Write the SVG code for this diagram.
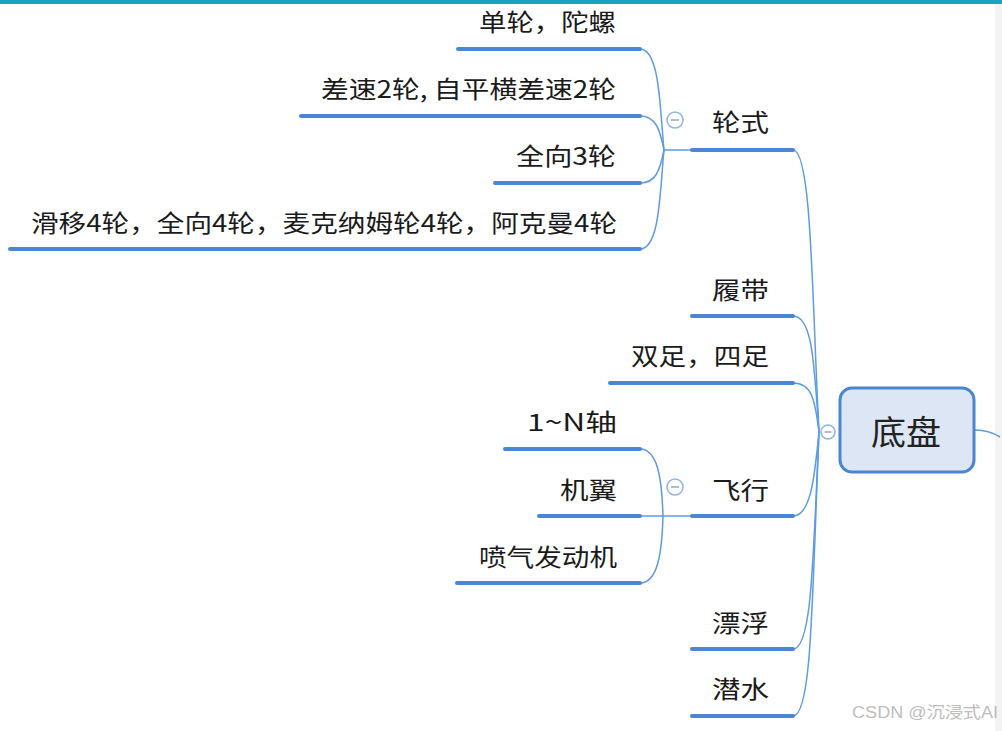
<svg xmlns="http://www.w3.org/2000/svg" width="1002" height="731" viewBox="0 0 1002 731">
<style>
.t{font-family:"Noto Sans CJK SC","Noto Sans",sans-serif;font-size:24px;fill:#1a1a1a}
.bar{stroke:#4A86D6;stroke-width:4;stroke-linecap:round;fill:none}
.ln{stroke:#5E9BE2;stroke-width:1.5;fill:none}
.col{fill:#fff;stroke:#8FB4E6;stroke-width:1.5}
.minus{stroke:#8FA6C8;stroke-width:1.5}
</style>
<rect x="0" y="0" width="1002" height="731" fill="#fff"/>
<rect x="0" y="0" width="1002" height="4" fill="#1CA3BF"/>
<rect x="995" y="4" width="7" height="727" fill="#F3F3F3"/>

<g id="connectors">
  <!-- root trunk -->
  <path class="ln" d="M975 430 C985 430 992 432 1000 437"/>
  <path class="ln" d="M819 432 C812 300 812 150 793 150"/>
  <path class="ln" d="M819 432 C814 360 812 316 793 316"/>
  <path class="ln" d="M819 432 C815 400 812 383 793 383"/>
  <path class="ln" d="M819 432 C815 470 812 516 793 516"/>
  <path class="ln" d="M819 432 C813 560 812 649 793 649"/>
  <path class="ln" d="M819 432 C812 600 812 716 793 716"/>
  <!-- 轮式 children -->
  <path class="ln" d="M692 150 L664 150"/>
  <path class="ln" d="M664 150 C660 110 660 49 640 49"/>
  <path class="ln" d="M664 150 C660 130 656 116 640 116"/>
  <path class="ln" d="M664 150 C660 170 656 183 640 183"/>
  <path class="ln" d="M664 150 C660 190 660 249 640 249"/>
  <!-- 飞行 children -->
  <path class="ln" d="M692 516 L640 516"/>
  <path class="ln" d="M663 516 C662 480 658 449 640 449"/>
  <path class="ln" d="M663 516 C662 552 658 583 640 583"/>
</g>

<g id="root">
  <rect x="840" y="388" width="134" height="84" rx="12" fill="#DCE6F4" stroke="#4A86D0" stroke-width="3"/>
  <text class="t" x="871" y="445" font-size="34" style="font-size:34px;fill:#222" textLength="70" lengthAdjust="spacingAndGlyphs">底盘</text>
  <circle class="col" cx="828" cy="432" r="7"/>
  <line class="minus" x1="824.5" y1="432" x2="831.5" y2="432"/>
</g>

<g id="n-lunshi">
  <line class="bar" x1="692" y1="150" x2="793" y2="150"/>
  <text class="t" x="712" y="131" textLength="57" lengthAdjust="spacingAndGlyphs">轮式</text>
  <circle class="col" cx="675" cy="120" r="8"/>
  <line class="minus" x1="671" y1="120" x2="679" y2="120"/>
</g>
<g id="n-danlun">
  <line class="bar" x1="458" y1="49" x2="640" y2="49"/>
  <text class="t" x="479" y="31" textLength="137" lengthAdjust="spacingAndGlyphs">单轮，陀螺</text>
</g>
<g id="n-chasu">
  <line class="bar" x1="301" y1="116" x2="640" y2="116"/>
  <text class="t" x="321" y="98" textLength="295" lengthAdjust="spacingAndGlyphs">差速2轮, 自平横差速2轮</text>
</g>
<g id="n-quanxiang3">
  <line class="bar" x1="495" y1="183" x2="640" y2="183"/>
  <text class="t" x="516" y="165" textLength="100" lengthAdjust="spacingAndGlyphs">全向3轮</text>
</g>
<g id="n-huayi">
  <line class="bar" x1="10" y1="249" x2="640" y2="249"/>
  <text class="t" x="31" y="232" textLength="586" lengthAdjust="spacingAndGlyphs">滑移4轮，全向4轮，麦克纳姆轮4轮，阿克曼4轮</text>
</g>

<g id="n-lvdai">
  <line class="bar" x1="692" y1="316" x2="793" y2="316"/>
  <text class="t" x="712" y="299" textLength="57" lengthAdjust="spacingAndGlyphs">履带</text>
</g>
<g id="n-zu">
  <line class="bar" x1="610" y1="383" x2="793" y2="383"/>
  <text class="t" x="631" y="365" textLength="138" lengthAdjust="spacingAndGlyphs">双足，四足</text>
</g>

<g id="n-feixing">
  <line class="bar" x1="692" y1="516" x2="793" y2="516"/>
  <text class="t" x="712" y="499" textLength="57" lengthAdjust="spacingAndGlyphs">飞行</text>
  <circle class="col" cx="675" cy="487" r="8"/>
  <line class="minus" x1="671" y1="487" x2="679" y2="487"/>
</g>
<g id="n-zhou">
  <line class="bar" x1="505" y1="449" x2="640" y2="449"/>
  <text class="t" x="527" y="431" textLength="90" lengthAdjust="spacingAndGlyphs">1~N轴</text>
</g>
<g id="n-jiyi">
  <line class="bar" x1="539" y1="516" x2="640" y2="516"/>
  <text class="t" x="560" y="499" textLength="57" lengthAdjust="spacingAndGlyphs">机翼</text>
</g>
<g id="n-penqi">
  <line class="bar" x1="457" y1="583" x2="640" y2="583"/>
  <text class="t" x="479" y="566" textLength="138" lengthAdjust="spacingAndGlyphs">喷气发动机</text>
</g>

<g id="n-piaofu">
  <line class="bar" x1="692" y1="649" x2="793" y2="649"/>
  <text class="t" x="712" y="632" textLength="57" lengthAdjust="spacingAndGlyphs">漂浮</text>
</g>
<g id="n-qianshui">
  <line class="bar" x1="692" y1="716" x2="793" y2="716"/>
  <text class="t" x="712" y="698" textLength="57" lengthAdjust="spacingAndGlyphs">潜水</text>
</g>

<text x="852" y="718" style="font-family:'Liberation Sans','Noto Sans CJK SC',sans-serif;font-size:16px;fill:#BDBDBD" textLength="146" lengthAdjust="spacingAndGlyphs">CSDN @沉浸式AI</text>
</svg>
